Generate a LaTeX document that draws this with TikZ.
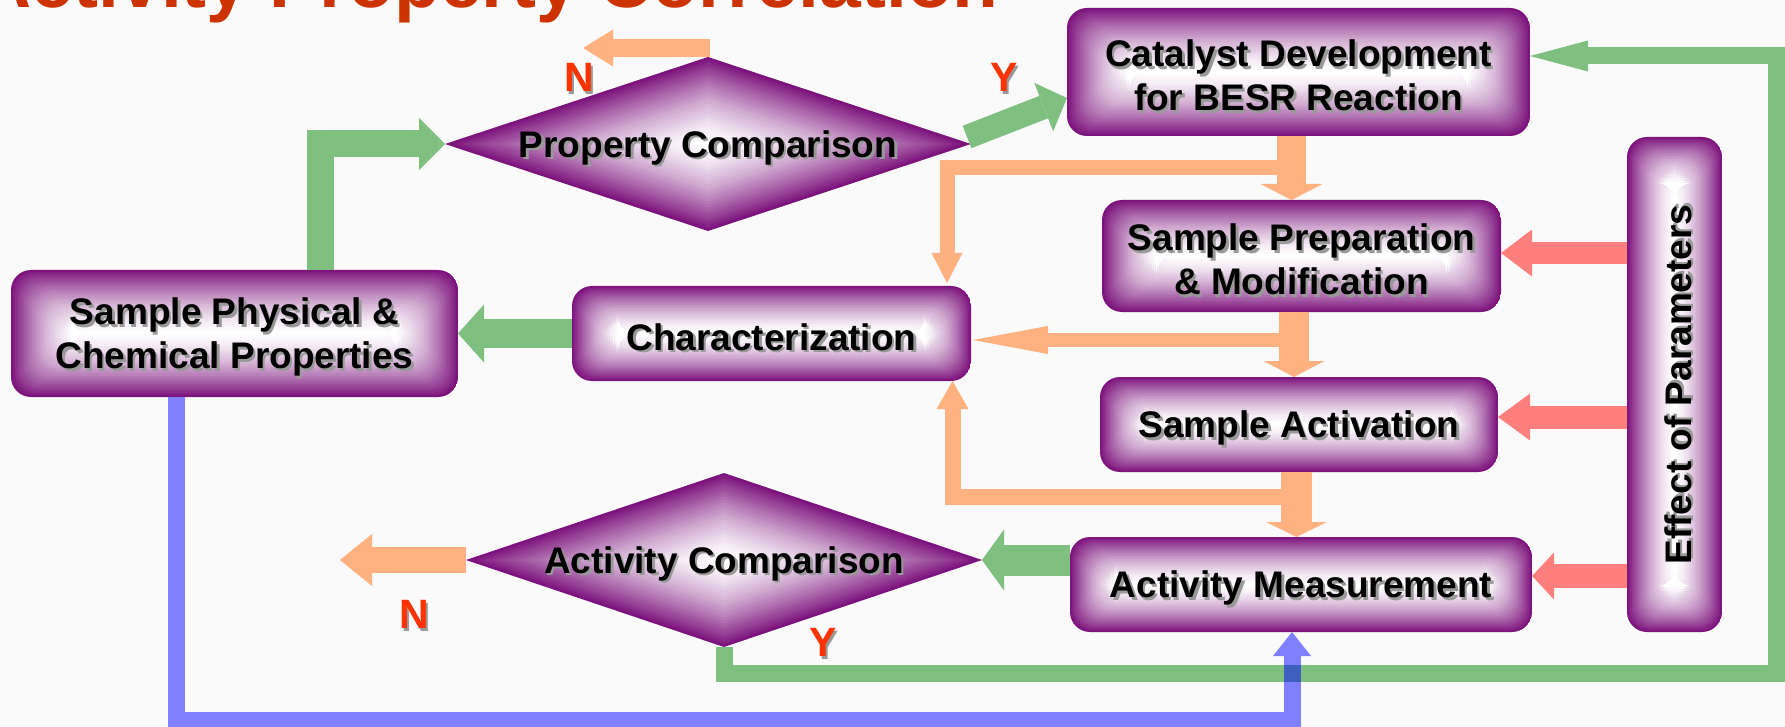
\documentclass[tikz,border=0pt]{standalone}
\usepackage{fontspec}
\setmainfont{Liberation Sans}
\usetikzlibrary{calc,shapes.geometric,arrows.meta}
\definecolor{pp}{RGB}{125,20,125}
\definecolor{bgc}{RGB}{250,250,250}
\definecolor{gA}{RGB}{127,191,127}
\definecolor{oA}{RGB}{255,178,127}
\definecolor{rA}{RGB}{255,127,127}
\definecolor{bA}{RGB}{127,127,255}
\definecolor{xA}{RGB}{63,95,191}
\definecolor{lbl}{RGB}{255,51,0}
\definecolor{ttl}{RGB}{204,51,0}
\newcommand\shd[1]{\raisebox{-5pt}[\height][\depth]{\rlap{\kern2.5pt\raisebox{-2.5pt}{\textcolor{black!40}{#1}}}#1}}
\newcommand\shl[1]{\raisebox{-2pt}[\height][\depth]{\rlap{\kern2.5pt\raisebox{-2.5pt}{\textcolor{black!40}{#1}}}#1}}
\tikzset{
 rgrad/.style={path picture={
   \foreach \k in {0,...,30}{
     \pgfmathtruncatemacro{\c}{100*(1-\k/30)^1.5}
     \fill[pp!\c!white] let \p1=(path picture bounding box.south west), \p2=(path picture bounding box.north east), \n1={min(\x2-\x1,\y2-\y1)*\k/60} in (\x1+\n1,\y1+\n1) rectangle (\x2-\n1,\y2-\n1);
   }}},
 dgrad/.style={path picture={
   \foreach \k in {0,...,30}{
     \pgfmathtruncatemacro{\c}{100*(1-\k/30)^1.5}
     \pgfmathsetmacro{\f}{1-\k/30}
     \fill[pp!\c!white] ($(path picture bounding box.center)!\f!(path picture bounding box.east)$) -- ($(path picture bounding box.center)!\f!(path picture bounding box.north)$) -- ($(path picture bounding box.center)!\f!(path picture bounding box.west)$) -- ($(path picture bounding box.center)!\f!(path picture bounding box.south)$) -- cycle;
   }}},
 box/.style={rectangle, rounded corners=20pt, inner sep=0pt, outer sep=0pt, align=center, font=\fontsize{37}{44}\selectfont\bfseries, rgrad},
 dia/.style={diamond, aspect=3, inner sep=0pt, outer sep=0pt, font=\fontsize{37}{44}\selectfont\bfseries, dgrad},
 lab/.style={text=lbl, font=\fontsize{41}{44}\selectfont\bfseries, inner sep=0pt},
 ahd/.style 2 args={-{Triangle[length=#1,width=#2,line width=0pt]}},
 conn/.style={line join=miter, line cap=butt},
}
\begin{document}
\begin{tikzpicture}[x=1pt,y=-1pt]
\useasboundingbox (0,0) rectangle (1785,727);
\clip (0,0) rectangle (1785,727);
\fill[bgc] (0,0) rectangle (1785,727);
\node[anchor=base east, inner sep=0pt, text=ttl, font=\fontsize{75}{80}\selectfont\bfseries] (title) at (999,8) {Activity Property Correlation};

\node[box, minimum width=463pt, minimum height=128pt] (cat) at (1298.5,72) {\shd{Catalyst Development}\\\shd{for BESR Reaction}};
\node[box, minimum width=399pt, minimum height=112pt] (prep) at (1301.5,256) {\shd{Sample Preparation}\\\shd{\& Modification}};
\node[box, minimum width=398pt, minimum height=95pt] (act) at (1299,424.5) {\shd{Sample Activation}};
\node[box, minimum width=462pt, minimum height=95pt] (meas) at (1301,584.5) {\shd{Activity Measurement}};
\node[box, minimum width=95pt, minimum height=495pt] (eff) at (1674.5,384.5) {\rotatebox{90}{\shd{Effect of Parameters}}};
\node[box, minimum width=399pt, minimum height=95pt] (char) at (771.5,333.5) {\shd{Characterization}};
\node[box, minimum width=447pt, minimum height=127pt] (phys) at (234.5,333.5) {\shd{Sample Physical \&}\\\shd{Chemical Properties}};
\node[dia, minimum width=526pt, minimum height=174pt] (pc) at (708,144) {\shd{Property Comparison}};
\node[dia, minimum width=516pt, minimum height=174pt] (ac) at (724,560) {\shd{Activity Comparison}};

\node[lab] (n1) at (579,77) {\shl{N}};
\node[lab] (y1) at (1004,77) {\shl{Y}};
\node[lab] (n2) at (414,614) {\shl{N}};
\node[lab] (y2) at (823,642) {\shl{Y}};

% green connectors
\draw[conn, gA, line width=27pt, ahd={26pt}{52pt}] ($(phys.north)+(85.5,0)$) |- (pc.west);
\draw[conn, gA, line width=24pt, ahd={25pt}{52pt}] ($(pc.east)+(-4,-7)$) -- ($(cat.west)+(0,26)$);
\draw[conn, gA, line width=29pt, ahd={26pt}{58pt}] (char.west) -- (phys.east);
\draw[conn, gA, line width=31pt, ahd={22pt}{61pt}] (meas.west |- ac.east) -- (ac.east);
\coordinate (gR) at (1776.5,673);
\draw[conn, gA, line width=17pt, ahd={58pt}{31pt}] (ac.south) |- (gR) |- ($(cat.east)+(0,-16)$);

% orange connectors
\draw[conn, oA, line width=29pt, ahd={16pt}{62pt}] ($(cat.south)+(-7,0)$) -- ($(cat.south |- prep.north)+(-7,0)$);
\draw[conn, oA, line width=15pt, ahd={30pt}{31pt}] ($(cat.south)+(-21.5,31.5)$) -| ($(char.north)+(175.5,-3)$);
\draw[conn, oA, line width=30pt, ahd={16pt}{61pt}] ($(prep.south)+(-7.5,0)$) -- ($(prep.south |- act.north)+(-7.5,0)$);
\draw[conn, oA, line width=14pt, ahd={75pt}{28pt}] ($(prep.south)+(-22,28)$) -- ($(char.east)+(2,6.5)$);
\draw[conn, oA, line width=31pt, ahd={15pt}{61pt}] ($(act.south)+(-2.5,0)$) -- ($(act.south |- meas.north)+(-2.5,0)$);
\draw[conn, oA, line width=16pt, ahd={28pt}{32pt}] ($(act.south)+(-18,24.5)$) -| ($(char.south)+(181,0)$);
\coordinate (pcN) at (583,48);
\draw[conn, oA, line width=18pt, ahd={30pt}{37pt}] ($(pc.north)+(2,-9)$) -- (pcN);
\coordinate (acN) at (340,560);
\draw[conn, oA, line width=26pt, ahd={32pt}{52pt}] (ac.west) -- (acN);

% red connectors
\draw[conn, rA, line width=22pt, ahd={31pt}{47pt}] ($(eff.west |- prep.east)+(0,-3)$) -- ($(prep.east)+(0,-3)$);
\draw[conn, rA, line width=23pt, ahd={32pt}{47pt}] ($(eff.west |- act.east)+(0,-7.5)$) -- ($(act.east)+(0,-7.5)$);
\draw[conn, rA, line width=24pt, ahd={22pt}{47pt}] ($(eff.west |- meas.east)+(0,-8.5)$) -- ($(meas.east)+(0,-8.5)$);

% blue connector
\draw[conn, bA, line width=17pt, ahd={24pt}{38pt}] ($(phys.south)+(-58,0)$) |- ($(meas.south)+(-9,88)$) -- ($(meas.south)+(-9,0)$);
\fill[xA] (1283.5,664.5) rectangle (1300.5,681.5);
\end{tikzpicture}
\end{document}
